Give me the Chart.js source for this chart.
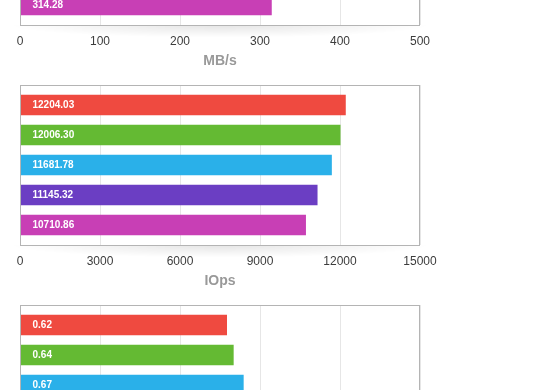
<!DOCTYPE html>
<html>
<head>
<meta charset="utf-8">
<script src="https://cdn.jsdelivr.net/npm/chart.js@4.4.0/dist/chart.umd.min.js"></script>
<style>
body { margin: 0; background: #fff; overflow: hidden; }
#wrap { position: relative; width: 560px; height: 390px; overflow: hidden; }
canvas { position: absolute; left: 0; }
</style>
</head>
<body>
<div id="wrap">
  <canvas id="mbs" width="560" height="220" style="top:-140px"></canvas>
  <canvas id="iops" width="560" height="220" style="top:80px"></canvas>
  <canvas id="lat" width="560" height="220" style="top:300px"></canvas>
</div>
<script>
var categories = ['Run 1', 'Run 2', 'Run 3', 'Run 4', 'Run 5'];
var barColors = ['#ef4a40', '#64ba33', '#2ab0e9', '#6b3ec3', '#c83fb5'];

// top chart is scrolled off, only the last bar shows
var mbsValues = [357.6, 351.8, 341.2, 326.4, 314.28];
var iopsValues = [12204.03, 12006.30, 11681.78, 11145.32, 10710.86];
var latencyValues = [0.62, 0.64, 0.67, 0.70, 0.73];

var mbsTicks = [0, 100, 200, 300, 400, 500];
var iopsTicks = [0, 3000, 6000, 9000, 12000, 15000];
var latencyTicks = [0, 0.24, 0.48, 0.72, 0.96, 1.2];

// box round the plot + soft shadow under it
var framePlugin = {
  id: 'frame',
  beforeDraw: function(chart) {
    var a = chart.chartArea, ctx = chart.ctx;
    var cx = (a.left + a.right) / 2;
    ctx.save();
    ctx.translate(cx, a.bottom);
    ctx.scale(1, 0.06);
    var g = ctx.createRadialGradient(0, 0, 0, 0, 0, 210);
    g.addColorStop(0, 'rgba(0,0,0,0.10)');
    g.addColorStop(1, 'rgba(0,0,0,0)');
    ctx.fillStyle = g;
    ctx.fillRect(-210, 0, 420, 210);
    ctx.restore();
  },
  afterDatasetsDraw: function(chart) {
    var a = chart.chartArea, ctx = chart.ctx;
    ctx.save();
    ctx.strokeStyle = '#b4b4b4';
    ctx.lineWidth = 1;
    ctx.strokeRect(Math.round(a.left) + 0.5, Math.round(a.top) + 0.5,
      Math.round(a.right - a.left) - 1, Math.round(a.bottom - a.top));
    ctx.restore();
  }
};

var valueLabels = {
  id: 'valueLabels',
  afterDatasetsDraw: function(chart) {
    var ctx = chart.ctx;
    var meta = chart.getDatasetMeta(0);
    var ds = chart.data.datasets[0];
    ctx.save();
    ctx.font = 'bold 10px "Liberation Sans", Arial, sans-serif';
    ctx.fillStyle = '#ffffff';
    ctx.textAlign = 'left';
    ctx.textBaseline = 'middle';
    meta.data.forEach(function(bar, i) {
      ctx.fillText(ds.data[i].x.toFixed(2), bar.base + 12, bar.y);
    });
    ctx.restore();
  }
};

function makeChart(id, values, ticks, title) {
  var ctx = document.getElementById(id).getContext('2d');
  return new Chart(ctx, {
    type: 'bar',
    data: {
      labels: categories,
      datasets: [{
        data: values.map(function(v, i) { return { x: v, y: i }; }),
        backgroundColor: barColors,
        borderWidth: 0,
        barThickness: 20
      }]
    },
    options: {
      indexAxis: 'y',
      responsive: false,
      animation: false,
      devicePixelRatio: 1,
      layout: { padding: { left: 20, right: 140, top: 5, bottom: 0 } },
      plugins: { legend: { display: false }, tooltip: { enabled: false } },
      scales: {
        y: {
          type: 'linear',
          display: false,
          reverse: true,
          offset: false,
          min: -0.667,
          max: 4.667
        },
        x: {
          min: ticks[0],
          max: ticks[ticks.length - 1],
          afterBuildTicks: function(scale) {
            scale.ticks = ticks.map(function(v) { return { value: v }; });
          },
          afterFit: function(scale) { scale.height = 55; },
          grid: { color: '#e6e6e6', drawTicks: false },
          border: { display: false },
          ticks: {
            padding: 9,
            color: '#3c3c3c',
            font: { family: '"Liberation Sans", Arial, sans-serif', size: 12 },
            callback: function(v) { return String(v); }
          },
          title: {
            display: true,
            text: title,
            color: '#999',
            font: { family: '"Liberation Sans", Arial, sans-serif', size: 14, weight: 'bold' },
            padding: { top: 0, bottom: 10 }
          }
        }
      }
    },
    plugins: [framePlugin, valueLabels]
  });
}

makeChart('mbs', mbsValues, mbsTicks, 'MB/s');
makeChart('iops', iopsValues, iopsTicks, 'IOps');
makeChart('lat', latencyValues, latencyTicks, 'ms');
</script>
</body>
</html>
